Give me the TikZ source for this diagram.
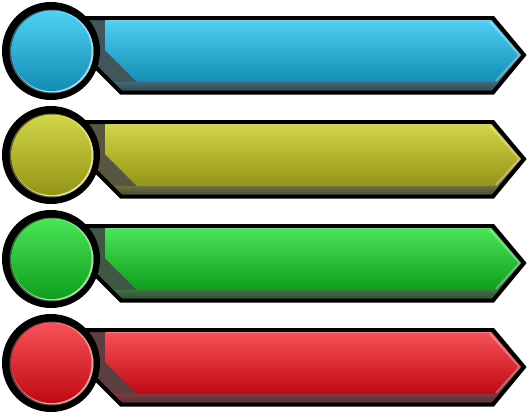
\documentclass[tikz,border=0pt]{standalone}
\usetikzlibrary{calc}
\newcommand\dobar[7]{%
  \definecolor{cT}{RGB}{#2,#3,#4}%
  \definecolor{cB}{RGB}{#5,#6,#7}%
  \colorlet{cS}{cB!25!gray!65!black}%
  \colorlet{cSt}{cB!45!gray!80!black}%
  \colorlet{cSb}{cB!30!gray!50!black}%
  % bar interior + outline
  \path[fill=cS] (70,#1-33) coordinate (b1) -- (493,#1-33) coordinate (b2) -- (524,#1+4) coordinate (b3)
     -- (493,#1+41.5) coordinate (b4) -- (121,#1+41.5) coordinate (b5) -- (70,#1-9.5) coordinate (b6) -- cycle;
  \begin{scope}
    \clip (b1) -- (b2) -- (b3) -- (b4) -- (b5) -- (b6) -- cycle;
    \shade[top color=cSt, bottom color=cSb] (100,#1+31) rectangle (530,#1+42);
  \end{scope}
  \shade[top color=cT, bottom color=cB] (105,#1-31) coordinate (c1) -- (491,#1-31) coordinate (c2)
     -- (521,#1+4) coordinate (c3) -- (497,#1+31) coordinate (c4) -- (137,#1+31) coordinate (c5)
     -- (105,#1-1) coordinate (c6) -- cycle;
  \draw[white, opacity=.45, line width=1pt] ($(c1)+(1,0.6)$) -- ($(c2)+(0,0.6)$);
  \draw[white, opacity=.3, line width=2pt, line join=round] ($(c2)+(-1,1.5)$) -- ($(c3)+(-1.5,0)$) -- ($(c4)+(-1,-1)$);
  \draw[outline] (b1) -- (b2) -- (b3) -- (b4) -- (b5) -- (b6) -- cycle;
  % knob
  \fill[black] (51,#1) circle[radius=49pt];
  \fill[cS] (51.5,#1+0.5) circle[radius=42pt];
  \fill[cT!65!white] (52.5,#1+0.5) circle[radius=41pt];
  \shade[top color=cT, bottom color=cB] (51.5,#1) circle[radius=40pt];
}
\begin{document}
\begin{tikzpicture}[x=1pt, y=-1pt,
  outline/.style={draw=black, line width=4pt, line join=miter}]
\useasboundingbox (0,0) rectangle (528,416);
\dobar{51}{80}{208}{245}{18}{140}{180}
\dobar{155}{210}{214}{72}{148}{148}{22}
\dobar{259}{75}{228}{88}{14}{158}{28}
\dobar{363}{246}{82}{88}{192}{8}{18}
\end{tikzpicture}
\end{document}
